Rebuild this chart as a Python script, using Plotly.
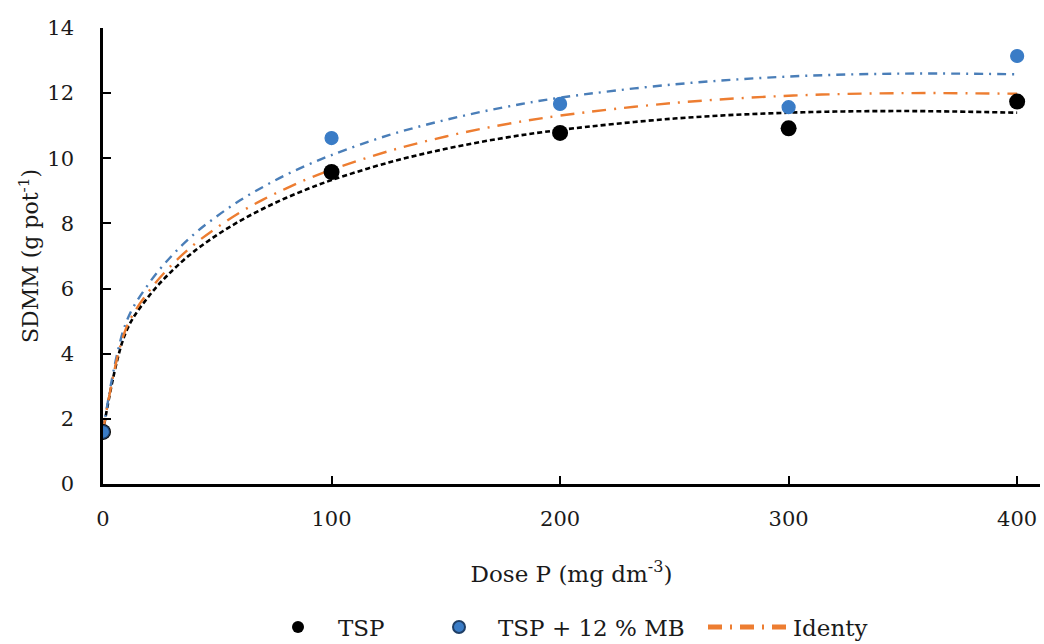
import plotly.graph_objects as go

# Observed points
dose = [0, 100, 200, 300, 400]
tsp = [1.6, 9.58, 10.78, 10.92, 11.74]
tsp_mb = [1.6, 10.62, 11.67, 11.57, 13.14]

# Fitted curves
curve_x = [0, 10, 20, 30, 40, 50, 60, 70, 80, 90, 100, 125, 150, 175, 200, 250, 300, 350, 400]
curve_tsp = [1.6, 4.66, 5.76, 6.53, 7.15, 7.65, 8.08, 8.45, 8.78, 9.07, 9.33,
             9.87, 10.29, 10.62, 10.87, 11.22, 11.40, 11.45, 11.40]
curve_mb = [1.6, 4.94, 6.15, 7.00, 7.68, 8.23, 8.71, 9.12, 9.49, 9.81, 10.10,
            10.71, 11.18, 11.56, 11.86, 12.27, 12.51, 12.60, 12.58]
curve_id = [1.6, 4.76, 5.91, 6.72, 7.36, 7.88, 8.34, 8.73, 9.07, 9.38, 9.65,
            10.22, 10.67, 11.03, 11.31, 11.70, 11.92, 12.00, 11.98]

x_ticks = [0, 100, 200, 300, 400]
y_ticks = [0, 2, 4, 6, 8, 10, 12, 14]

FONT = "DejaVu Serif"
TXT = "#1a1a1a"

fig = go.Figure()

fig.add_trace(go.Scatter(
    x=curve_x, y=curve_tsp, mode="lines", showlegend=False,
    line=dict(color="#000000", width=2.6, dash="5px,3px", shape="spline", smoothing=1),
    hoverinfo="skip"))
fig.add_trace(go.Scatter(
    x=curve_x, y=curve_mb, mode="lines", showlegend=False,
    line=dict(color="#4A7EB8", width=2.4, dash="9px,6px,2px,6px", shape="spline", smoothing=1),
    hoverinfo="skip"))
fig.add_trace(go.Scatter(
    x=curve_x, y=curve_id, mode="lines", name="Identy", legend="legend3",
    line=dict(color="#ED7D31", width=2.4, dash="14px,8px,2px,8px", shape="spline", smoothing=1)))

fig.add_trace(go.Scatter(
    x=dose, y=tsp, mode="markers", name="TSP", legend="legend",
    marker=dict(color="#000000", size=16)))
fig.add_trace(go.Scatter(
    x=dose, y=tsp_mb, mode="markers", name="TSP + 12 % MB", legend="legend2",
    marker=dict(color="#3A7CC6", size=13,
                line=dict(color=["#1F3F66", "#3A7CC6", "#3A7CC6", "#3A7CC6", "#3A7CC6"], width=1.2))))

def leg(xpx, itemw):
    return dict(orientation="h", x=(xpx - 103) / 937, xanchor="left",
                y=-0.3136, yanchor="middle", itemsizing="constant",
                itemwidth=itemw, bgcolor="rgba(0,0,0,0)",
                font=dict(family=FONT, size=23, color=TXT))

fig.update_layout(
    width=1044, height=644,
    margin=dict(l=103, r=4, t=28, b=160, autoexpand=False),
    paper_bgcolor="white", plot_bgcolor="white",
    font=dict(family=FONT, size=22, color=TXT),
    showlegend=True,
    legend=leg(258, 70),
    legend2=leg(420, 68),
    legend3=leg(703, 80),
)

fig.update_xaxes(
    range=[0, 410], tickvals=x_ticks, ticktext=[str(v) for v in x_ticks],
    showgrid=False, zeroline=False,
    showline=True, linecolor="#000000", linewidth=2.5,
    ticks="inside", ticklen=8, tickwidth=1.5, tickcolor="#000000",
    ticklabelstandoff=14,
    tickfont=dict(family=FONT, size=21, color=TXT),
    title=dict(text="Dose P (mg dm<sup>-3</sup>)", standoff=36,
               font=dict(family=FONT, size=23, color=TXT)),
)
fig.update_yaxes(
    range=[0, 14], tickvals=y_ticks, ticktext=[str(v) for v in y_ticks],
    showgrid=False, zeroline=False,
    showline=True, linecolor="#000000", linewidth=2.5,
    ticks="inside", ticklen=8, tickwidth=1.5, tickcolor="#000000",
    ticklabelstandoff=22,
    tickfont=dict(family=FONT, size=21, color=TXT),
    title=dict(text="SDMM (g pot<sup>-1</sup>)", standoff=3,
               font=dict(family=FONT, size=22, color=TXT)),
)

fig.write_html("out.html")
